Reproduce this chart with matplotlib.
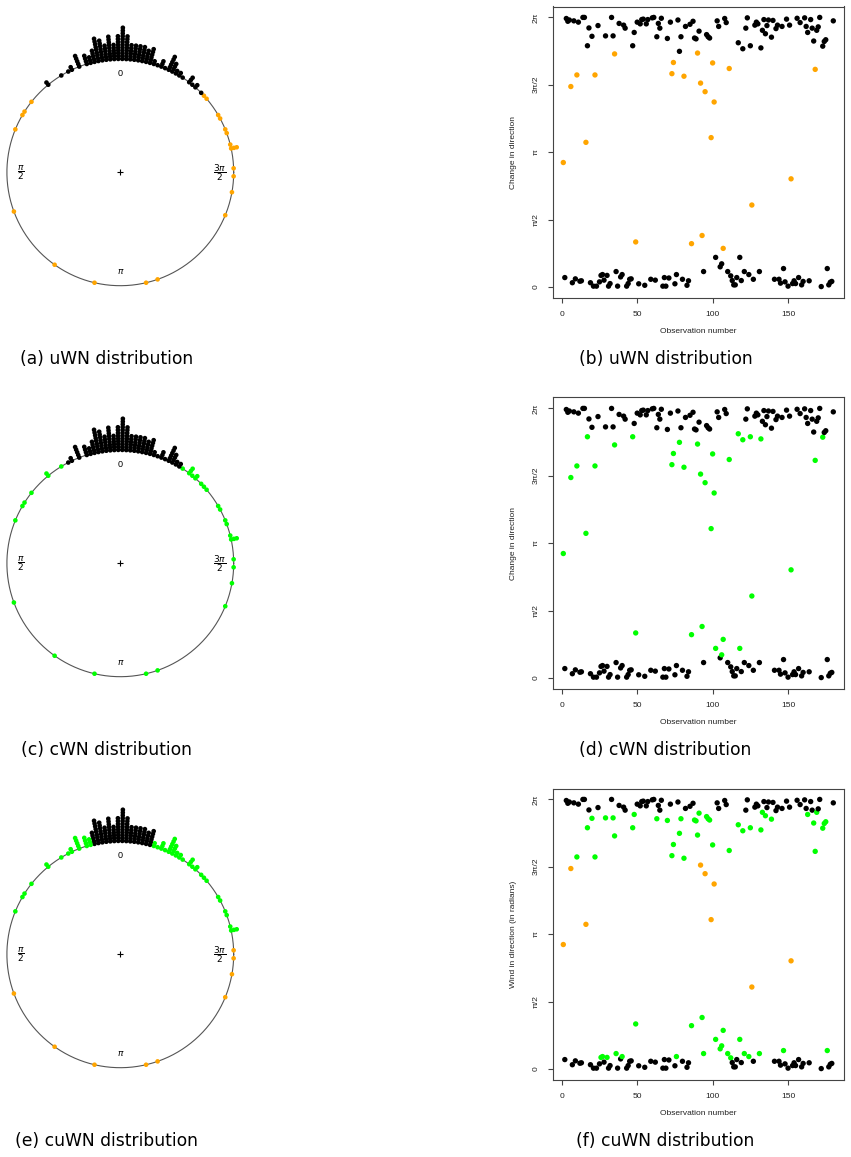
import numpy as np
import matplotlib
matplotlib.use("Agg")
import matplotlib.pyplot as plt

plt.rcParams['font.family'] = ['Liberation Sans', 'DejaVu Sans']
plt.rcParams['mathtext.fontset'] = 'dejavusans'

# ---------------- data ----------------
obs = [1, 2, 3, 4, 5, 6, 7, 8, 9, 10, 11, 12, 13, 14, 15, 16, 17, 18, 19, 20,
       21, 22, 23, 24, 25, 26, 27, 28, 29, 30, 31, 32, 33, 34, 35, 36, 37, 38, 39, 40,
       41, 42, 43, 44, 45, 46, 47, 48, 49, 50, 51, 52, 53, 54, 55, 56, 57, 59, 60,
       61, 62, 63, 64, 65, 66, 67, 68, 69, 70, 71, 72, 73, 74, 75, 76, 77, 78, 79, 80,
       81, 82, 83, 84, 85, 86, 87, 88, 89, 90, 91, 92, 93, 94, 95, 96, 97, 98, 99, 100,
       101, 102, 103, 104, 105, 106, 107, 108, 109, 110, 111, 112, 113, 114, 115, 116, 117, 118, 119, 120,
       121, 122, 123, 124, 125, 126, 127, 128, 129, 130, 131, 132, 133, 134, 135, 136, 137, 139, 140,
       141, 142, 143, 144, 145, 146, 147, 148, 149, 150, 151, 152, 153, 154, 155, 156, 157, 158, 159, 160,
       161, 162, 163, 164, 165, 166, 167, 168, 169, 170, 171, 172, 173, 174, 175, 176, 177, 178, 179, 180]
direction = [2.90, 0.22, 6.255, 6.19, 6.22, 4.67, 0.10, 6.20, 0.19, 4.94,
             6.17, 0.135, 0.145, 6.28, 6.28, 3.37, 5.62, 6.035, 0.10, 5.84,
             0.02, 4.94, 0.02, 6.09, 0.12, 0.27, 0.29, 0.16, 5.85, 0.27,
             0.02, 0.08, 6.28, 5.85, 5.43, 0.36, 0.02, 6.14, 0.235, 0.29,
             6.10, 6.03, 0.02, 0.08, 0.18, 0.19, 5.62, 5.93, 1.05, 6.17,
             0.075, 6.13, 6.23, 6.24, 0.04, 6.13, 6.23, 0.18, 6.27,
             6.28, 0.16, 5.83, 6.14, 6.03, 6.26, 0.02, 0.22, 0.02, 5.79,
             0.21, 6.17, 4.97, 5.23, 0.075, 0.29, 6.22, 5.49, 5.83, 0.18,
             4.91, 6.07, 0.04, 0.145, 6.12, 1.01, 6.19, 5.80, 5.78, 5.45,
             5.96, 4.75, 1.20, 0.36, 4.55, 5.88, 5.83, 5.80, 3.48, 5.22,
             4.31, 0.69, 6.20, 6.07, 0.47, 0.54, 0.90, 6.255, 6.16, 0.36,
             5.09, 0.26, 0.15, 0.05, 0.05, 0.22, 5.69, 0.69, 0.15, 5.55,
             0.36, 6.03, 6.27, 0.29, 5.62, 1.91, 0.18, 6.10, 6.17, 6.13,
             0.36, 5.57, 5.98, 6.23, 5.90, 6.09, 6.22, 5.82, 6.21,
             0.18, 6.02, 6.10, 0.18, 0.09, 6.07, 0.43, 0.12, 6.24, 0.02,
             6.10, 2.52, 0.08, 0.145, 0.08, 6.26, 0.22, 6.16, 0.05, 0.13,
             6.27, 6.07, 5.93, 0.145, 6.23, 6.03, 5.73, 5.07, 5.98, 6.06,
             6.28, 0.01, 5.61, 5.72, 5.76, 0.43, 0.05, 0.11, 0.13, 6.20]

captions = ["(a) uWN distribution", "(b) uWN distribution",
            "(c) cWN distribution", "(d) cWN distribution",
            "(e) cuWN distribution", "(f) cuWN distribution"]
ylabels = ["Change in direction", "Change in direction", "Wind in direction (in radians)"]
xlabel = "Observation number"
xticks = [0, 50, 100, 150]
yticks = [0, np.pi / 2, np.pi, 3 * np.pi / 2, 2 * np.pi]
ytick_labels = ["0", "π/2", "π", "3π/2", "2π"]
circ_labels = ["0", r"$\dfrac{\pi}{2}$", r"$\pi$", r"$\dfrac{3\pi}{2}$"]

# colour classes per row: black band limits, colour of the rest, optional orange band
rows = [
    dict(black=(0.75, 5.46), mid='#FFA500', far=None),
    dict(black=(0.50, 5.705), mid='#00FF00', far=None),
    dict(black=(0.24, 6.01), mid='#00FF00', far=(1.5, 4.85)),
]


def colours(row):
    out = []
    for v in direction:
        lo, hi = row['black']
        if v < lo or v > hi:
            out.append('black')
        elif row['far'] is not None and row['far'][0] < v < row['far'][1]:
            out.append('#FFA500')
        else:
            out.append(row['mid'])
    return out


W, H = 851, 1157
fig = plt.figure(figsize=(W / 100, H / 100), dpi=100)


def add_ax(x0, y0, x1, y1):
    return fig.add_axes([x0 / W, 1 - y1 / H, (x1 - x0) / W, (y1 - y0) / H])


CX, R = 120.3, 113.4
step = 391.0
for k, row in enumerate(rows):
    cols = colours(row)
    # ---------- circular plot ----------
    cy = 172.3 + k * step
    top, bot = cy - 172, cy + 128
    ax = add_ax(0, top, 241, bot)
    ax.set_xlim(-CX / R, (241 - CX) / R)
    ax.set_ylim(-(bot - cy) / R, (cy - top) / R)
    ax.axis('off')
    t = np.linspace(0, 2 * np.pi, 400)
    ax.plot(np.cos(t), np.sin(t), color='#555555', lw=0.8)
    ax.plot([0], [0], marker='+', color='black', ms=5, mew=0.8)
    # stacking like circular::points(stack=TRUE)
    n = len(direction)
    bins = n
    arc = 2 * np.pi / bins
    stacks = {}
    order = np.argsort(direction)
    xs, ys, cs = [], [], []
    for i in order:
        v = direction[i] % (2 * np.pi)
        b = int(np.ceil(v / arc)) if v > 0 else bins
        j = stacks.get(b, 0)
        stacks[b] = j + 1
        mid = (b - 0.5) * arc
        rr = 1 + j * 0.025
        xs.append(-rr * np.sin(mid))
        ys.append(rr * np.cos(mid))
        cs.append(cols[i])
    ax.scatter(xs, ys, c=cs, s=11, edgecolors='none', clip_on=False, zorder=3)
    lr = 0.875
    ax.text(0, lr, circ_labels[0], ha='center', va='center', fontsize=6.5)
    ax.text(-lr, 0, circ_labels[1], ha='center', va='center', fontsize=6.5)
    ax.text(0, -lr, circ_labels[2], ha='center', va='center', fontsize=6.5)
    ax.text(lr, 0, circ_labels[3], ha='center', va='center', fontsize=6.5)
    fig.text(106.5 / W, 1 - (cy + 187) / H, captions[2 * k], ha='center', va='center',
             fontsize=12.3, family='DejaVu Sans')

    # ---------- scatter plot ----------
    btop = 6.5 + k * step
    sx = add_ax(552.5, btop, 844.1, btop + 291.3)
    sx.scatter(obs, direction, c=cols, s=15, edgecolors='none', zorder=3)
    sx.set_xlim(-6.16, 187.16)
    sx.set_ylim(-0.2513, 2 * np.pi + 0.2513)
    sx.set_xticks(xticks)
    sx.set_xticklabels([str(v) for v in xticks])
    sx.set_yticks(yticks)
    sx.set_yticklabels(ytick_labels, rotation=90, va='center')
    for s in sx.spines.values():
        s.set_color('#444444')
        s.set_linewidth(0.8)
    sx.tick_params(direction='out', length=3.6, width=0.8, color='#444444',
                   labelsize=6, labelcolor='#222222')
    sx.tick_params(axis='x', pad=6)
    sx.tick_params(axis='y', pad=5.5)
    sx.set_xlabel(xlabel, fontsize=6, color='#222222')
    sx.set_ylabel(ylabels[k], fontsize=6, color='#222222')
    sx.xaxis.set_label_coords(0.5, -0.105)
    sx.yaxis.set_label_coords(-0.122, 0.5)
    fig.text(665.5 / W, 1 - (btop + 352.5) / H, captions[2 * k + 1], ha='center', va='center',
             fontsize=12.3, family='DejaVu Sans')

fig.savefig("out.png", dpi=100)
